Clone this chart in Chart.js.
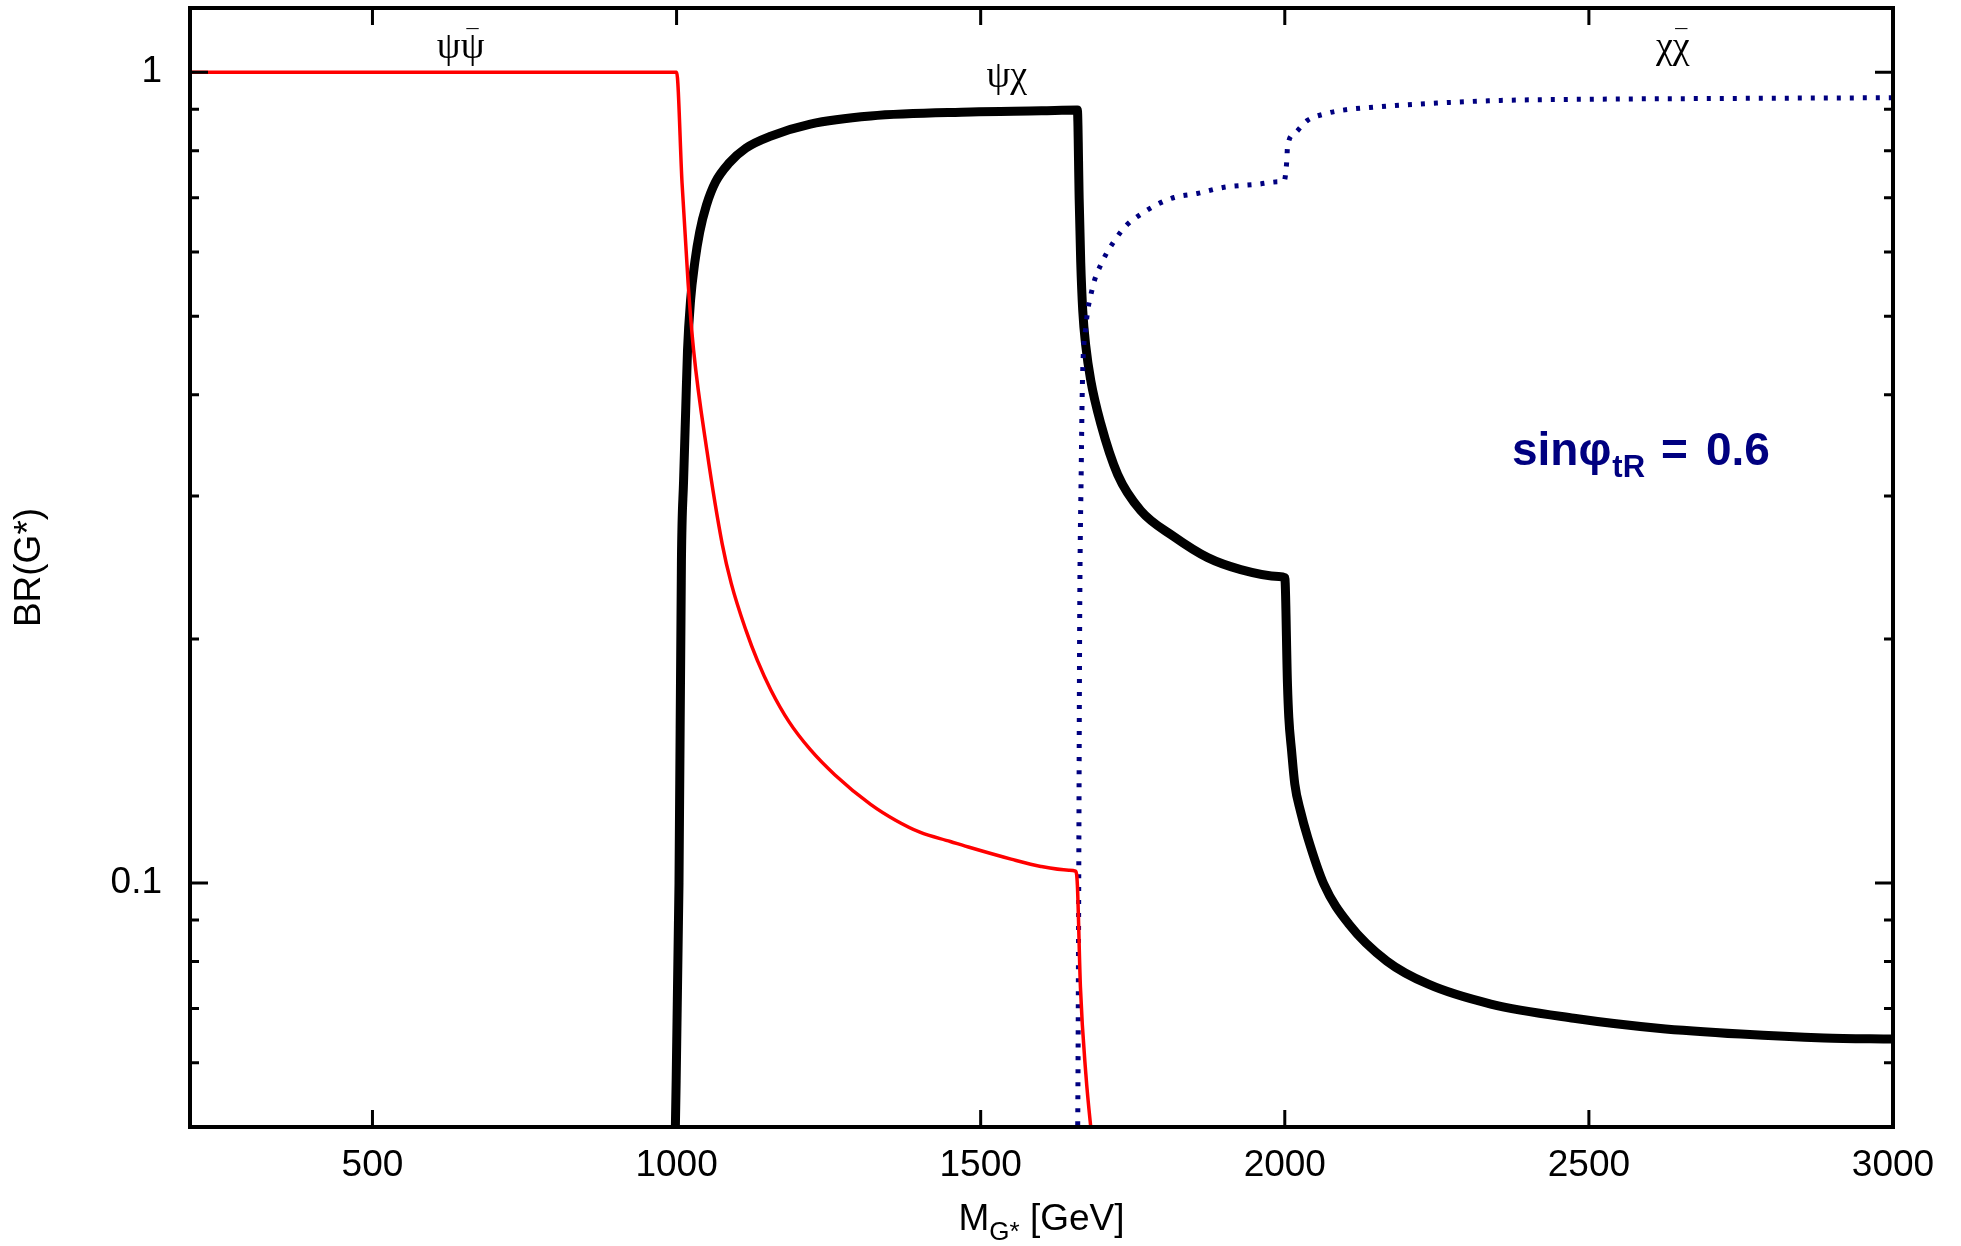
<!DOCTYPE html>
<html>
<head>
<meta charset="utf-8">
<script src="https://cdn.jsdelivr.net/npm/chart.js@4.4.1/dist/chart.umd.min.js"></script>
<style>
  html, body { margin: 0; padding: 0; background: #ffffff; }
  #wrap { width: 1961px; height: 1246px; }
</style>
</head>
<body>
<div id="wrap"><canvas id="c" width="1961" height="1246"></canvas></div>
<script>
// ---- data ----
const X_TICKS = [500, 1000, 1500, 2000, 2500, 3000];
const Y_TICKS = [0.05, 0.06, 0.07, 0.08, 0.09, 0.1, 0.2, 0.3, 0.4, 0.5, 0.6, 0.7, 0.8, 0.9, 1];
const Y_MAJOR = [1, 0.1];
const Y_LABELS = ['1', '0.1'];

// psi psibar (red)
const RED_X = [200, 1000, 1009, 1019, 1028, 1050, 1075, 1090, 1114, 1133, 1155, 1185, 1220, 1260, 1319, 1360, 1400, 1450, 1484, 1550, 1599, 1645, 1656, 1659, 1664, 1673, 1681, 1688];
const RED_Y = [1, 1, 0.73, 0.549, 0.454, 0.341, 0.262, 0.234, 0.205, 0.188, 0.173, 0.158, 0.146, 0.136, 0.125, 0.1195, 0.1155, 0.1125, 0.1105, 0.107, 0.1048, 0.1037, 0.1034, 0.0994, 0.0744, 0.058, 0.05, 0.045];

// psi chi (black)
const BLACK_X = [997, 1004, 1008, 1011.5, 1015, 1018, 1023, 1030, 1038, 1049, 1064, 1086, 1114, 1155, 1220, 1319, 1484, 1600, 1659,
                 1662, 1664.5, 1667.8, 1672.7, 1681, 1697.4, 1725.3, 1763.2, 1817.4, 1873.4, 1927.6, 1990, 2000,
                 2004.4, 2006.6, 2011.2, 2016.4, 2025.7, 2037.8, 2064.1, 2105.3, 2167.8, 2236, 2338.8, 2475.3, 2613.5, 2750, 2886.5, 3000];
const BLACK_Y = [0.045, 0.1, 0.25, 0.313, 0.383, 0.454, 0.523, 0.583, 0.635, 0.685, 0.732, 0.772, 0.806, 0.834, 0.863, 0.883, 0.893, 0.896, 0.898,
                 0.695, 0.5825, 0.5084, 0.4603, 0.4166, 0.3687, 0.3189, 0.2879, 0.2675, 0.2519, 0.2435, 0.2388, 0.238,
                 0.176, 0.160, 0.1455, 0.1325, 0.1227, 0.1137, 0.0997, 0.089, 0.0801, 0.075, 0.0709, 0.0681, 0.0662, 0.0651, 0.0644, 0.0642];

// chi chibar (blue, dotted)
const BLUE_X = [1658, 1659.5, 1661.2, 1662.8, 1665.3, 1667.3, 1672.7, 1683.7, 1700.2, 1719.2, 1741.3, 1763.2, 1790.6, 1817.9, 1856.4, 1900.2, 1955.1, 1990, 1998.8,
                2003.3, 2004.4, 2015.3, 2037.3, 2064.7, 2092.1, 2150, 2250, 2355, 2500, 2700, 3000];
const BLUE_Y = [0.045, 0.05, 0.0992, 0.2124, 0.3226, 0.4142, 0.4831, 0.5413, 0.5842, 0.6184, 0.6492, 0.6679, 0.6871, 0.7006, 0.7087, 0.7212, 0.7274, 0.7325, 0.7337,
                0.778, 0.808, 0.839, 0.872, 0.888, 0.897, 0.906, 0.916, 0.923, 0.926, 0.928, 0.930];

// channel labels: base glyphs, and whether the second glyph carries a bar
const CHANNEL_TEXT = ['ψψ', 'ψχ', 'χχ'];
const CHANNEL_BAR = [true, false, true];
const CHANNEL_X = [645, 1543, 2638];
const CHANNEL_Y = [1.04, 0.958, 1.04];

const pts = (xs, ys) => xs.map((x, i) => ({ x: x, y: ys[i] }));

const SANS = "'Liberation Sans', Arial, Helvetica, sans-serif";
const SERIF = "'Liberation Serif', 'Times New Roman', serif";

const framePlugin = {
  id: 'frame',
  afterDraw(chart) {
    const ctx = chart.ctx;
    const { left, right, top, bottom } = chart.chartArea;
    const xs = chart.scales.x, ys = chart.scales.y;
    ctx.save();
    ctx.strokeStyle = '#000';
    ctx.lineWidth = 3;
    ctx.lineCap = 'butt';
    ctx.beginPath();
    xs.ticks.forEach(t => {
      const px = xs.getPixelForValue(t.value);
      ctx.moveTo(px, bottom); ctx.lineTo(px, bottom - 17);
      ctx.moveTo(px, top); ctx.lineTo(px, top + 17);
    });
    ys.ticks.forEach(t => {
      const py = ys.getPixelForValue(t.value);
      const len = Y_MAJOR.includes(t.value) ? 18 : 9;
      ctx.moveTo(left, py); ctx.lineTo(left + len, py);
      ctx.moveTo(right, py); ctx.lineTo(right - len, py);
    });
    ctx.stroke();
    ctx.lineWidth = 4;
    ctx.strokeRect(left, top, right - left, bottom - top);

    // channel labels
    ctx.fillStyle = '#000';
    ctx.textBaseline = 'alphabetic';
    CHANNEL_TEXT.forEach((s, i) => {
      const cx = xs.getPixelForValue(CHANNEL_X[i]);
      const cy = ys.getPixelForValue(CHANNEL_Y[i]);
      ctx.font = '38px ' + SERIF;
      ctx.textAlign = 'center';
      const w = ctx.measureText(s).width;
      const w2 = ctx.measureText(s.slice(1)).width;
      ctx.fillText(s, cx, cy);
      if (CHANNEL_BAR[i]) {
        ctx.font = '24px ' + SERIF;
        ctx.fillText('\u00AF', cx + w / 2 - w2 / 2, cy - 12);
      }
    });

    // x-axis title with subscript
    ctx.textAlign = 'left';
    const big = '37px ' + SANS, small = '26px ' + SANS;
    ctx.font = big; const wM = ctx.measureText('M').width; const wR = ctx.measureText(' [GeV]').width;
    ctx.font = small; const wS = ctx.measureText('G*').width;
    const x0 = (left + right) / 2 - (wM + wS + wR) / 2;
    const by = 1230;
    ctx.font = big; ctx.fillText('M', x0, by);
    ctx.font = small; ctx.fillText('G*', x0 + wM, by + 10);
    ctx.font = big; ctx.fillText(' [GeV]', x0 + wM + wS, by);

    // sin phi annotation
    ctx.fillStyle = '#000080';
    const b1 = 'bold 46px ' + SANS, b2 = 'bold 31px ' + SANS;
    const ay = 465;
    ctx.font = b1; ctx.fillText('sinφ', 1512, ay);
    const wSin = ctx.measureText('sinφ').width;
    ctx.font = b2; ctx.fillText('tR', 1512 + wSin + 1, ay + 12);
    ctx.font = b1; ctx.fillText('=', 1661, ay);
    ctx.fillText('0.6', 1706, ay);
    ctx.restore();
  }
};

new Chart(document.getElementById('c'), {
  type: 'line',
  data: {
    datasets: [
      { label: 'ψψ̄', data: pts(RED_X, RED_Y), borderColor: '#ff0000', borderWidth: 3.5,
        pointRadius: 0, cubicInterpolationMode: 'monotone', clip: 0, borderJoinStyle: 'round' },
      { label: 'χχ̄', data: pts(BLUE_X, BLUE_Y), borderColor: '#000080', borderWidth: 5,
        borderDash: [4, 9], borderCapStyle: 'butt', pointRadius: 0, cubicInterpolationMode: 'monotone', clip: 0 },
      { label: 'ψχ', data: pts(BLACK_X, BLACK_Y), borderColor: '#000000', borderWidth: 9,
        pointRadius: 0, cubicInterpolationMode: 'monotone', clip: 0, borderJoinStyle: 'miter' }
    ]
  },
  options: {
    responsive: false,
    animation: false,
    layout: { padding: { left: 0, top: 8, right: 68, bottom: 0 } },
    plugins: { legend: { display: false }, tooltip: { enabled: false } },
    scales: {
      x: {
        type: 'linear', min: 200, max: 3000, position: 'bottom',
        grid: { display: false, drawTicks: false }, border: { display: false },
        ticks: { font: { family: SANS, size: 37 }, color: '#000', padding: 17, maxRotation: 0, autoSkip: false,
          callback: v => String(v) },
        afterBuildTicks: s => { s.ticks = X_TICKS.map(v => ({ value: v })); },
        afterFit: s => { s.height = 119; s.paddingLeft = 0; s.paddingRight = 0; }
      },
      y: {
        type: 'logarithmic', min: 0.05, max: 1.2, position: 'left',
        grid: { display: false, drawTicks: false }, border: { display: false },
        ticks: { font: { family: SANS, size: 37 }, color: '#000', padding: 28, autoSkip: false,
          callback: v => { const i = Y_MAJOR.indexOf(v); return i >= 0 ? Y_LABELS[i] : ''; } },
        afterBuildTicks: s => { s.ticks = Y_TICKS.map(v => ({ value: v })); },
        title: { display: true, text: 'BR(G*)', font: { family: SANS, size: 37 }, color: '#000', padding: { top: 8, bottom: 0 } },
        afterFit: s => { s.width = 190; s.paddingTop = 0; s.paddingBottom = 0; }
      }
    }
  },
  plugins: [framePlugin]
});
</script>
</body>
</html>
